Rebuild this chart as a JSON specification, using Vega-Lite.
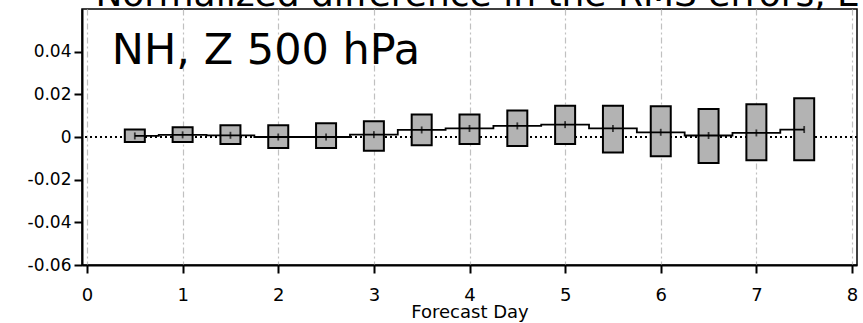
{
  "$schema": "https://vega.github.io/schema/vega-lite/v6.json",
  "autosize": {"type": "none"},
  "width": 775,
  "height": 256,
  "padding": {"left": 82, "top": 9, "right": 6, "bottom": 58},
  "background": "white",
  "config": {
    "font": "DejaVu Sans",
    "view": {"stroke": "black", "strokeWidth": 1.5},
    "axis": {
      "domainColor": "black",
      "domainWidth": 2,
      "tickColor": "black",
      "tickWidth": 2,
      "tickSize": 8,
      "labelColor": "black",
      "labelFont": "DejaVu Sans",
      "labelFontSize": 17,
      "gridColor": "#c0c0c0",
      "gridWidth": 1.2,
      "gridDash": [6, 3, 2, 3],
      "titleColor": "black",
      "titleFont": "DejaVu Sans",
      "titleFontWeight": "normal"
    }
  },
  "data": {
    "values": [
      {"day": 0.5, "lo": -0.0023, "hi": 0.0035, "med": 0.0005},
      {"day": 1.0, "lo": -0.0023, "hi": 0.0046, "med": 0.0010},
      {"day": 1.5, "lo": -0.0033, "hi": 0.0055, "med": 0.0008},
      {"day": 2.0, "lo": -0.0052, "hi": 0.0055, "med": 0.0000},
      {"day": 2.5, "lo": -0.0052, "hi": 0.0064, "med": 0.0000},
      {"day": 3.0, "lo": -0.0064, "hi": 0.0074, "med": 0.0011},
      {"day": 3.5, "lo": -0.0039, "hi": 0.0105, "med": 0.0033},
      {"day": 4.0, "lo": -0.0033, "hi": 0.0105, "med": 0.0040},
      {"day": 4.5, "lo": -0.0042, "hi": 0.0124, "med": 0.0052},
      {"day": 5.0, "lo": -0.0033, "hi": 0.0146, "med": 0.0058},
      {"day": 5.5, "lo": -0.0073, "hi": 0.0146, "med": 0.0040},
      {"day": 6.0, "lo": -0.0090, "hi": 0.0144, "med": 0.0022},
      {"day": 6.5, "lo": -0.0122, "hi": 0.0131, "med": 0.0007},
      {"day": 7.0, "lo": -0.0109, "hi": 0.0154, "med": 0.0019},
      {"day": 7.5, "lo": -0.0109, "hi": 0.0182, "med": 0.0035}
    ]
  },
  "layer": [
    {
      "mark": {"type": "rule", "color": "black", "strokeDash": [2, 3], "strokeWidth": 1.8},
      "encoding": {"y": {"datum": 0, "type": "quantitative"}}
    },
    {
      "mark": {"type": "bar", "size": 20, "fill": "#b3b3b3", "stroke": "black", "strokeWidth": 2},
      "encoding": {
        "x": {
          "field": "day",
          "type": "quantitative",
          "scale": {"domain": [0, 8], "nice": false, "zero": false},
          "axis": {
            "values": [0, 1, 2, 3, 4, 5, 6, 7, 8],
            "format": "d",
            "labelFontSize": 18,
            "labelPadding": 13,
            "title": "Forecast Day",
            "titleFontSize": 18,
            "titleY": 52,
            "titleBaseline": "alphabetic"
          }
        },
        "y": {
          "field": "hi",
          "type": "quantitative",
          "scale": {"domain": [-0.06, 0.06], "nice": false, "zero": false},
          "axis": {
            "values": [-0.06, -0.04, -0.02, 0, 0.02, 0.04],
            "labelExpr": "datum.value == 0 ? '0' : (datum.value < 0 ? '-' + format(-datum.value, '.2f') : format(datum.value, '.2f'))",
            "labelPadding": 3,
            "title": null
          }
        },
        "y2": {"field": "lo"}
      }
    },
    {
      "mark": {"type": "line", "interpolate": "step", "color": "black", "strokeWidth": 1.8},
      "encoding": {
        "x": {"field": "day", "type": "quantitative"},
        "y": {"field": "med", "type": "quantitative"}
      }
    },
    {
      "mark": {"type": "tick", "orient": "vertical", "size": 7, "thickness": 1.8, "color": "black"},
      "encoding": {
        "x": {"field": "day", "type": "quantitative"},
        "y": {"field": "med", "type": "quantitative"}
      }
    },
    {
      "data": {"values": [{"x": 0.26, "y": 0.034, "label": "NH, Z 500 hPa"}]},
      "mark": {"type": "text", "align": "left", "baseline": "alphabetic", "fontSize": 43, "font": "DejaVu Sans", "color": "black"},
      "encoding": {
        "x": {"field": "x", "type": "quantitative"},
        "y": {"field": "y", "type": "quantitative"},
        "text": {"field": "label"}
      }
    },
    {
      "data": {"values": [{"x": 0.088, "y": 0.0612, "label": "Normalized difference in the RMS errors, E"}]},
      "mark": {"type": "text", "align": "left", "baseline": "alphabetic", "fontSize": 36, "font": "DejaVu Sans", "color": "black"},
      "encoding": {
        "x": {"field": "x", "type": "quantitative"},
        "y": {"field": "y", "type": "quantitative"},
        "text": {"field": "label"}
      }
    }
  ]
}
